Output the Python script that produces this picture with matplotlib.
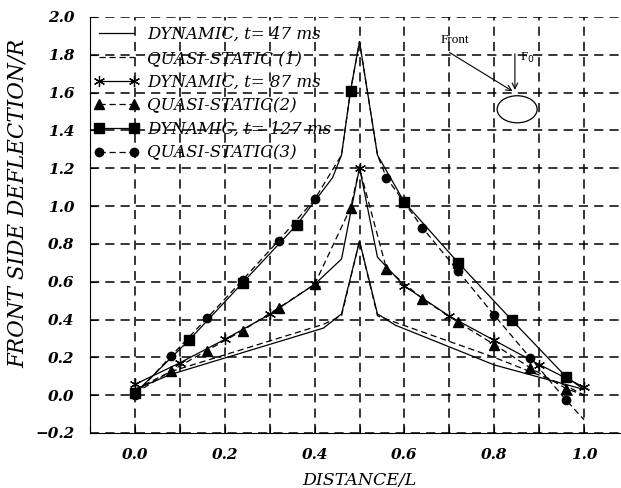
"""
Front side deflection along the beam: dynamic response vs quasi-static
solutions at three time instants.
"""

import matplotlib

matplotlib.use("Agg")
import matplotlib.pyplot as plt
from matplotlib.patches import Ellipse
from matplotlib.ticker import MultipleLocator

# --- data ------------------------------------------------------------------
# DYNAMIC, t = 47 ms (solid, no markers)
dyn47_x = [0.0, 0.08, 0.42, 0.46, 0.50, 0.54, 0.58, 0.80, 1.0]
dyn47_y = [0.03, 0.11, 0.355, 0.43, 0.815, 0.43, 0.37, 0.16, 0.03]

# QUASI-STATIC (1) (dashed, no markers)
qs1_x = [0.0, 0.08, 0.42, 0.46, 0.50, 0.54, 0.58, 0.80, 0.96, 1.0]
qs1_y = [0.03, 0.125, 0.375, 0.42, 0.815, 0.42, 0.385, 0.20, 0.05, 0.0]

# DYNAMIC, t = 87 ms (solid, asterisks every 0.1)
dyn87_x = [0.0, 0.1, 0.2, 0.3, 0.4, 0.46, 0.5, 0.54, 0.6, 0.7, 0.8, 0.9, 1.0]
dyn87_y = [0.057, 0.171, 0.295, 0.427, 0.586, 0.72, 1.203, 0.73, 0.577,
           0.418, 0.29, 0.162, 0.042]
dyn87_marks = [0, 1, 2, 3, 4, 6, 8, 9, 10, 11, 12]

# QUASI-STATIC (2) (dashed, triangles every 0.08)
qs2_x = [0.0, 0.08, 0.16, 0.24, 0.32, 0.40, 0.48, 0.50, 0.56, 0.64, 0.72,
         0.80, 0.88, 0.96, 1.0]
qs2_y = [0.01, 0.127, 0.236, 0.342, 0.462, 0.586, 0.99, 1.20, 0.669, 0.51,
         0.385, 0.268, 0.145, 0.035, 0.0]
qs2_marks = [1, 2, 3, 4, 5, 6, 8, 9, 10, 11, 12, 13]

# DYNAMIC, t = 127 ms (solid, squares every 0.12)
dyn127_x = [0.0, 0.12, 0.24, 0.36, 0.44, 0.46, 0.48, 0.50, 0.54, 0.60, 0.72,
            0.84, 0.96, 1.0]
dyn127_y = [0.01, 0.29, 0.595, 0.90, 1.15, 1.27, 1.61, 1.87, 1.27, 1.02,
            0.70, 0.395, 0.097, 0.03]
dyn127_marks = [0, 1, 2, 3, 6, 9, 10, 11, 12]

# QUASI-STATIC (3) (dashed, circles every 0.08)
qs3_x = [0.0, 0.08, 0.16, 0.24, 0.32, 0.40, 0.46, 0.48, 0.50, 0.54, 0.56,
         0.64, 0.72, 0.80, 0.88, 0.96, 1.0]
qs3_y = [0.0, 0.206, 0.406, 0.61, 0.818, 1.035, 1.27, 1.61, 1.87, 1.27, 1.15,
         0.886, 0.655, 0.423, 0.198, -0.026, -0.13]
qs3_marks = [0, 1, 2, 3, 4, 5, 7, 10, 11, 12, 13, 14, 15]

labels = [
    "DYNAMIC, t= 47 ms",
    "QUASI-STATIC (1)",
    "DYNAMIC, t= 87 ms",
    "QUASI-STATIC(2)",
    "DYNAMIC, t= 127 ms",
    "QUASI-STATIC(3)",
]
x_ticks = [0.0, 0.2, 0.4, 0.6, 0.8, 1.0]
y_ticks = [-0.2, 0.0, 0.2, 0.4, 0.6, 0.8, 1.0, 1.2, 1.4, 1.6, 1.8, 2.0]

SERIF = ["DejaVu Serif"]
LIB = ["Liberation Serif", "DejaVu Serif"]
DASH = (0, (5, 3))


def main() -> None:
    fig = plt.figure(figsize=(6.21, 4.88), dpi=100)
    # axes run slightly past the right edge of the picture, as in the reference
    ax = fig.add_axes([90 / 621, 55 / 488, 539 / 621, 416 / 488])

    common = dict(color="black", linewidth=0.9)
    ax.plot(dyn47_x, dyn47_y, linestyle="-", label=labels[0], **common)
    ax.plot(qs1_x, qs1_y, linestyle=DASH, label=labels[1], **common)
    ax.plot(dyn87_x, dyn87_y, linestyle="-", marker=(6, 2, 0), markersize=8,
            markeredgewidth=0.9, markevery=dyn87_marks, label=labels[2], **common)
    ax.plot(qs2_x, qs2_y, linestyle=DASH, marker="^", markersize=7,
            markevery=qs2_marks, label=labels[3], **common)
    ax.plot(dyn127_x, dyn127_y, linestyle="-", marker="s", markersize=6.5,
            markevery=dyn127_marks, label=labels[4], **common)
    ax.plot(qs3_x, qs3_y, linestyle=DASH, marker="o", markersize=6,
            markevery=qs3_marks, label=labels[5], **common)

    ax.set_xlim(-0.1, 1.1)
    ax.set_ylim(-0.2, 2.0)
    ax.set_xticks(x_ticks)
    ax.xaxis.set_minor_locator(MultipleLocator(0.1))
    ax.set_yticks(y_ticks)
    ax.set_xticklabels([f"{v:.1f}" for v in x_ticks])
    ax.set_yticklabels([f"{v:.1f}".replace("-", "\u2212") for v in y_ticks])
    ax.tick_params(which="both", direction="in", length=5, width=0.8,
                   pad=11)
    for lab in ax.get_xticklabels() + ax.get_yticklabels():
        lab.set_fontfamily(SERIF)
        lab.set_fontstyle("italic")
        lab.set_fontweight("bold")
        lab.set_fontsize(11)

    ax.grid(True, which="both", color="black", linestyle=(0, (6, 4)),
            linewidth=1.1)
    ax.spines["top"].set_visible(False)
    ax.spines["right"].set_visible(False)

    ax.set_xlabel("DISTANCE/L", family=SERIF, style="italic", fontsize=12.5)
    ax.xaxis.set_label_coords(0.5, -0.093)
    ax.set_ylabel("FRONT SIDE DEFLECTION/R", family=SERIF, style="italic",
                  fontsize=15.5)
    ax.yaxis.set_label_coords(-0.113, 0.553)

    ax.legend(loc="upper left", bbox_to_anchor=(-0.01, 1.0), frameon=False,
              numpoints=2, handlelength=2.7, handletextpad=0.5,
              labelspacing=0.4, borderaxespad=0.1, borderpad=0.45,
              prop=dict(family=SERIF, style="italic", size=12))

    # load sketch: ellipse with applied force and "Front" pointer
    ax.add_patch(Ellipse((0.851, 1.512), 0.089, 0.143, fill=False,
                         edgecolor="black", linewidth=0.9))
    ax.annotate("", xy=(0.846, 1.60), xytext=(0.695, 1.82),
                arrowprops=dict(arrowstyle="->", color="black", lw=0.8))
    ax.annotate("", xy=(0.846, 1.60), xytext=(0.846, 1.82),
                arrowprops=dict(arrowstyle="->", color="black", lw=0.8))
    ax.text(0.680, 1.86, "Front", family=LIB, fontsize=9.5)
    ax.text(0.857, 1.77, "F$_0$", family=LIB, fontsize=9.5)

    fig.savefig("out.png", dpi=100)
    plt.close(fig)


if __name__ == "__main__":
    main()
